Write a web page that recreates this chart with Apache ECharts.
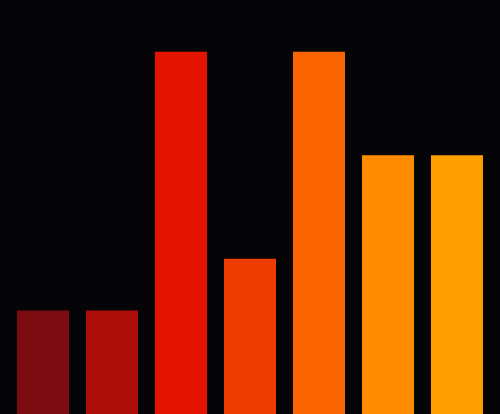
<!DOCTYPE html>
<html><head><meta charset="utf-8">
<script src="https://cdn.jsdelivr.net/npm/echarts@6/dist/echarts.min.js"></script>
<style>html,body{margin:0;padding:0;background:#050407;}#c{width:500px;height:414px;}</style>
</head><body><div id="c"></div>
<script>
const categories = ['A','B','C','D','E','F','G'];
const values = [2, 2, 7, 3, 7, 5, 5];
const colors = ['#7a0c12', '#ab0f08', '#e51400', '#ee3b00', '#fa6400', '#ff8c00', '#ffa000'];
const chart = echarts.init(document.getElementById('c'));
chart.setOption({
  backgroundColor: '#050407',
  animation: false,
  grid: { left: 8.5, right: 8.5, top: 0, bottom: 0 },
  xAxis: { type: 'category', data: categories, show: false },
  yAxis: { type: 'value', min: 0, max: 8, show: false },
  series: [{
    type: 'bar',
    barCategoryGap: '24.6%',
    data: values.map((v, i) => ({ value: v, itemStyle: { color: colors[i] } }))
  }]
});
</script></body></html>
